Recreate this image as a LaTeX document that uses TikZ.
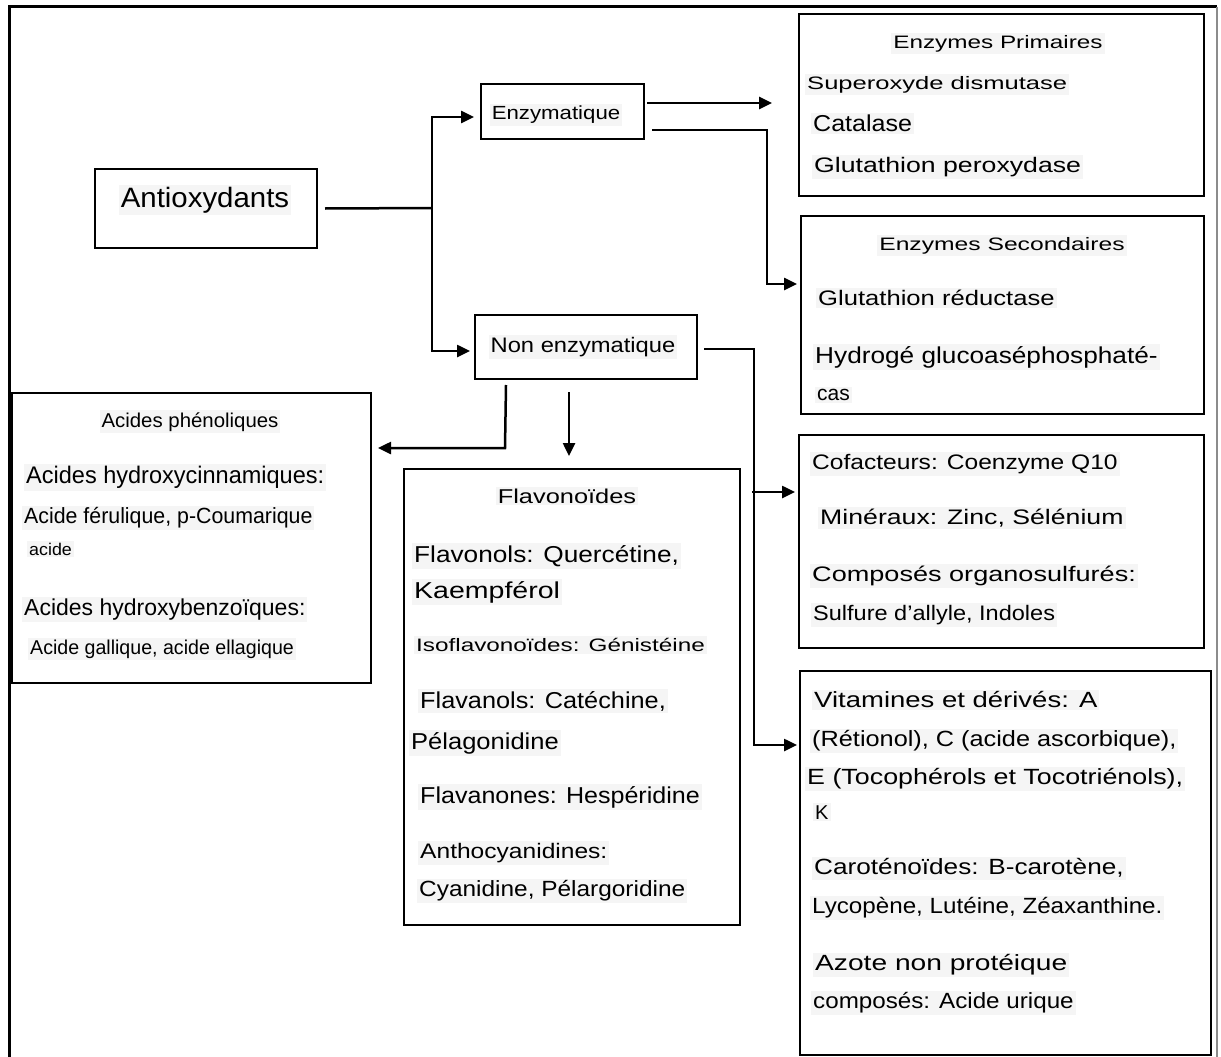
\documentclass[tikz,border=0pt]{standalone}
\usepackage{fontspec}
\usepackage{graphicx}
\setmainfont{Liberation Sans}
\usetikzlibrary{arrows.meta}
% horizontally stretched text
\newcommand\hx[2]{\scalebox{#1}[1]{#2}}
\begin{document}
\begin{tikzpicture}[x=1pt,y=-1pt,
  box/.style={draw, line width=2pt, rectangle, inner sep=0pt, anchor=north west},
  ln/.style={line width=2.5pt},
  arr/.style={line width=2.5pt, -{Triangle[length=13pt,width=12pt]}},
  lt/.style={anchor=base west, inner xsep=2pt, inner ysep=2pt, fill=black!4,
             yshift=-0.36*#1pt,
             font=\fontsize{#1pt}{#1pt}\selectfont},
  ct/.style={lt=#1, anchor=base}]
\useasboundingbox (0,0) rectangle (1221,1057);

% outer frame
\draw[line width=3pt] (9,1057) -- (9,7) -- (1217,7);
\draw[line width=2pt, black!45] (1217,7) -- (1217,1057);

% boxes
\node[box, minimum width=222pt, minimum height=79pt]  (antiox) at (94,168)  {};
\node[box, minimum width=163pt, minimum height=55pt]  (enz)    at (480,83)  {};
\node[box, minimum width=222pt, minimum height=64pt]  (nonenz) at (474,314) {};
\node[box, minimum width=405pt, minimum height=182pt] (ep)     at (798,13)  {};
\node[box, minimum width=403pt, minimum height=198pt] (es)     at (800,215) {};
\node[box, minimum width=359pt, minimum height=290pt] (ap)     at (11,392)  {};
\node[box, minimum width=336pt, minimum height=456pt] (fl)     at (403,468) {};
\node[box, minimum width=405pt, minimum height=213pt] (cof)    at (798,434) {};
\node[box, minimum width=411pt, minimum height=384pt] (vit)    at (799,670) {};

% box titles and entries
\node[ct=28] (tantiox) at (205,197) {\hx{1.05}{Antioxydants}};
\node[ct=19] (tenz)    at (556,113) {\hx{1.17}{Enzymatique}};
\node[ct=21] (tnonenz) at (583,345) {\hx{1.13}{Non enzymatique}};

\node[ct=18] (tep)  at (998,42)  {\hx{1.35}{Enzymes Primaires}};
\node[lt=18] (sod)  at (805,83)  {\hx{1.42}{Superoxyde dismutase}};
\node[lt=23] (cat)  at (811,123) {\hx{1.09}{Catalase}};
\node[lt=21] (gpx)  at (812,165) {\hx{1.27}{Glutathion peroxydase}};

\node[ct=18] (tes)  at (1002,244) {\hx{1.37}{Enzymes Secondaires}};
\node[lt=21] (gr)   at (816,298)  {\hx{1.22}{Glutathion réductase}};
\node[lt=23] (hyd)  at (813,355)  {\hx{1.14}{Hydrogé glucoaséphosphaté-}};
\node[lt=21] (cas)  at (815,393)  {cas};

\node[ct=20] (tap)  at (190,420) {\hx{1.02}{Acides phénoliques}};
\node[lt=24] (ahc)  at (24,475)  {\hx{0.98}{Acides hydroxycinnamiques:}};
\node[lt=22] (afe)  at (22,516)  {\hx{0.97}{Acide férulique, p-Coumarique}};
\node[lt=17] (aci)  at (27,549)  {\hx{1.05}{acide}};
\node[lt=23] (ahb)  at (22,607)  {\hx{1.0}{Acides hydroxybenzoïques:}};
\node[lt=20] (aga)  at (28,647)  {\hx{0.98}{Acide gallique, acide ellagique}};

\node[ct=20] (tfl)  at (567,496) {\hx{1.27}{Flavonoïdes}};
\node[lt=23] (fnl)  at (412,554) {\hx{1.14}{Flavonols: Quercétine,}};
\node[lt=23] (kae)  at (412,590) {\hx{1.24}{Kaempférol}};
\node[lt=18] (iso)  at (414,645) {\hx{1.35}{Isoflavonoïdes: Génistéine}};
\node[lt=23] (fvl)  at (418,700) {\hx{1.10}{Flavanols: Catéchine,}};
\node[lt=23] (pel)  at (409,741) {\hx{1.11}{Pélagonidine}};
\node[lt=23] (fvn)  at (418,795) {\hx{1.09}{Flavanones: Hespéridine}};
\node[lt=21] (ant)  at (418,851) {\hx{1.17}{Anthocyanidines:}};
\node[lt=22] (cya)  at (417,889) {\hx{1.11}{Cyanidine, Pélargoridine}};

\node[lt=21] (coq)  at (810,462) {\hx{1.17}{Cofacteurs: Coenzyme Q10}};
\node[lt=21] (min)  at (818,517) {\hx{1.27}{Minéraux: Zinc, Sélénium}};
\node[lt=21] (cos)  at (810,574) {\hx{1.29}{Composés organosulfurés:}};
\node[lt=21] (sul)  at (811,613) {\hx{1.12}{Sulfure d'allyle, Indoles}};

\node[lt=22] (vt1)  at (812,700)  {\hx{1.25}{Vitamines et dérivés: A}};
\node[lt=22] (vt2)  at (810,739)  {\hx{1.15}{(Rétionol), C (acide ascorbique),}};
\node[lt=22] (vt3)  at (805,777)  {\hx{1.22}{E (Tocophérols et Tocotriénols),}};
\node[lt=20] (vt4)  at (813,812)  {K};
\node[lt=22] (car1) at (812,867)  {\hx{1.19}{Caroténoïdes: B-carotène,}};
\node[lt=22] (car2) at (810,906)  {\hx{1.10}{Lycopène, Lutéine, Zéaxanthine.}};
\node[lt=22] (az1)  at (813,963)  {\hx{1.28}{Azote non protéique}};
\node[lt=22] (az2)  at (811,1001) {\hx{1.10}{composés: Acide urique}};

% connectors
\coordinate (split) at (432,208);
\draw[ln] ([xshift=7pt]antiox.east) -- (split);
\draw[arr] (split) |- ([xshift=-6pt,yshift=-5.5pt]enz.west);
\draw[arr] (split) |- ([xshift=-4pt,yshift=-4pt]nonenz.west);

\draw[arr] ([xshift=2pt,yshift=8.5pt]enz.east) -- ([xshift=-26pt,yshift=2pt]ep.west);
\draw[arr] ([xshift=7pt,yshift=-18.5pt]enz.east) -- ++(115,0) |- ([xshift=-3pt,yshift=31pt]es.west);

\draw[arr] ([xshift=6pt,yshift=-2pt]nonenz.east) -- ++(50,0) |- ([xshift=-2pt,yshift=118pt]vit.west);
\coordinate (cofsplit) at (752,492);
\draw[arr, shorten >=3pt] (cofsplit) -- (cofsplit -| cof.west);

\coordinate (apstart) at ([xshift=-80pt,yshift=-5pt]nonenz.south);
\coordinate (apturn) at (505,448);
\draw[arr, shorten >=6pt] (apstart) -- (apturn) -- (apturn -| ap.east);
\coordinate (flstart) at ([xshift=-17pt,yshift=-12pt]nonenz.south);
\draw[arr, shorten >=12pt] (flstart) -- (flstart |- fl.north);
\end{tikzpicture}
\end{document}
